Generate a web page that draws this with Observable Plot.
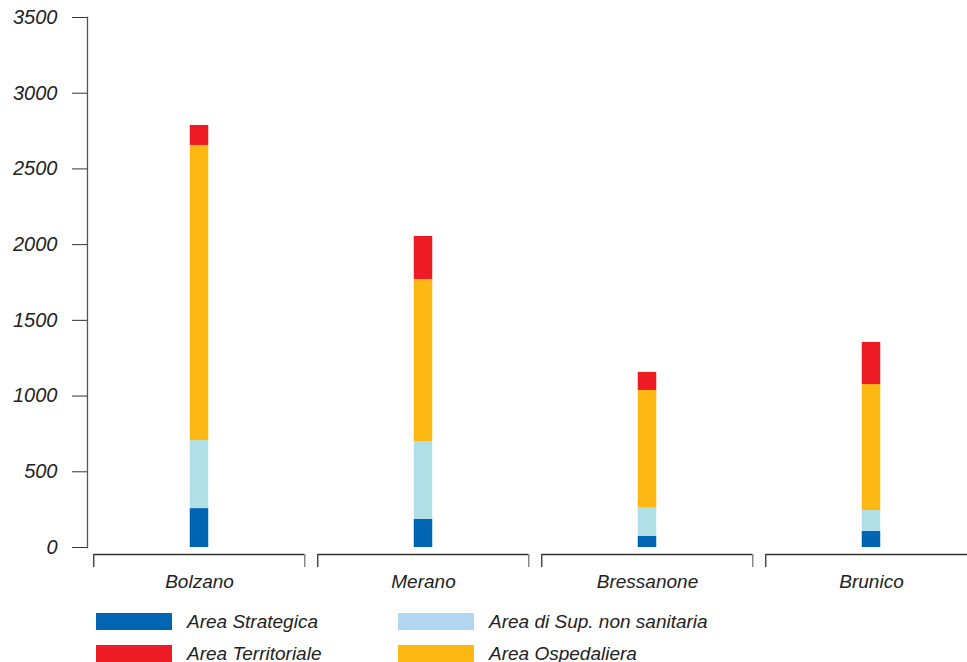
<!DOCTYPE html>
<html>
<head>
<meta charset="utf-8">
<script src="https://cdn.jsdelivr.net/npm/d3@7"></script>
<script src="https://cdn.jsdelivr.net/npm/@observablehq/plot@0.6"></script>
<style>
  body { margin: 0; background: #fff; font-family: "Liberation Sans", Arial, sans-serif; }
  #legend { position: relative; height: 62px; font-style: italic; font-size: 19px; color: #222; }
  .item { position: absolute; display: flex; align-items: center; height: 17px; }
  .sw { width: 76px; height: 17px; margin-right: 15px; }
</style>
</head>
<body>
<div id="chart"></div>
<div id="legend"></div>
<script>
const cities = ["Bolzano", "Merano", "Bressanone", "Brunico"];
const areas = ["Area Strategica", "Area di Sup. non sanitaria", "Area Ospedaliera", "Area Territoriale"];
const strategica   = [257, 185, 73, 106];
const nonSanitaria = [449, 515, 191, 138];
const ospedaliera  = [1949, 1070, 773, 832];
const territoriale = [132, 284, 119, 278];
const yTicks = [0, 500, 1000, 1500, 2000, 2500, 3000, 3500];

const barColors = ["#0066b3", "#b0dfe5", "#fdb813", "#ed1c24"];
const legendColors = ["#0066b3", "#b2d6f0", "#fdb813", "#ed1c24"];

const series = [strategica, nonSanitaria, ospedaliera, territoriale];
const rows = [];
cities.forEach((c, i) => areas.forEach((a, j) => rows.push({city: c, area: a, value: series[j][i]})));

const x0 = 85.5, x1 = 983.5;
const band = (x1 - x0) / cities.length;
const barW = 19;

const chart = Plot.plot({
  width: 967,
  height: 600,
  marginTop: 17,
  marginBottom: 53,
  marginLeft: 87,
  marginRight: 0,
  style: {fontFamily: "Liberation Sans, Arial, sans-serif", fontStyle: "italic", color: "#222", background: "#fff"},
  x: {domain: cities, range: [x0, x1], padding: 0},
  y: {domain: [0, 3500]},
  color: {domain: areas, range: barColors},
  marks: [
    Plot.frame({anchor: "left", stroke: "#555", strokeWidth: 1.3}),
    Plot.axisY({ticks: yTicks, tickSize: 15, tickPadding: 15, fontSize: 20, stroke: "#333", tickFormat: d => String(d), label: null}),
    Plot.barY(rows, {x: "city", y: "value", fill: "area", insetLeft: (band - barW) / 2, insetRight: (band - barW) / 2}),
    Plot.tickY(cities, {x: d => d, y: () => 0, dy: 7, insetLeft: 6.5, insetRight: 7, stroke: "#333", strokeWidth: 1.3}),
    Plot.ruleX(cities, {x: d => d, y1: () => 0, y2: () => 0, insetTop: 7, insetBottom: -20, dx: -band / 2 + 6.5, stroke: "#333", strokeWidth: 1.3}),
    Plot.ruleX(cities, {x: d => d, y1: () => 0, y2: () => 0, insetTop: 7, insetBottom: -20, dx: band / 2 - 7, stroke: "#777", strokeWidth: 1.3}),
    Plot.axisX({tickSize: 0, tickPadding: 27, fontSize: 19, label: null})
  ]
});
document.getElementById("chart").appendChild(chart);

// legend: column-major (col 1: Strategica, Territoriale; col 2: non sanitaria, Ospedaliera)
const legend = document.getElementById("legend");
const legendOrder = [0, 3, 1, 2];
legendOrder.forEach((idx, k) => {
  const col = Math.floor(k / 2), row = k % 2;
  const it = document.createElement("div");
  it.className = "item";
  it.style.left = (96 + col * 302) + "px";
  it.style.top = (13 + row * 32) + "px";
  const sw = document.createElement("div");
  sw.className = "sw";
  sw.style.background = legendColors[idx];
  const tx = document.createElement("span");
  tx.textContent = areas[idx];
  it.appendChild(sw);
  it.appendChild(tx);
  legend.appendChild(it);
});
</script>
</body>
</html>
